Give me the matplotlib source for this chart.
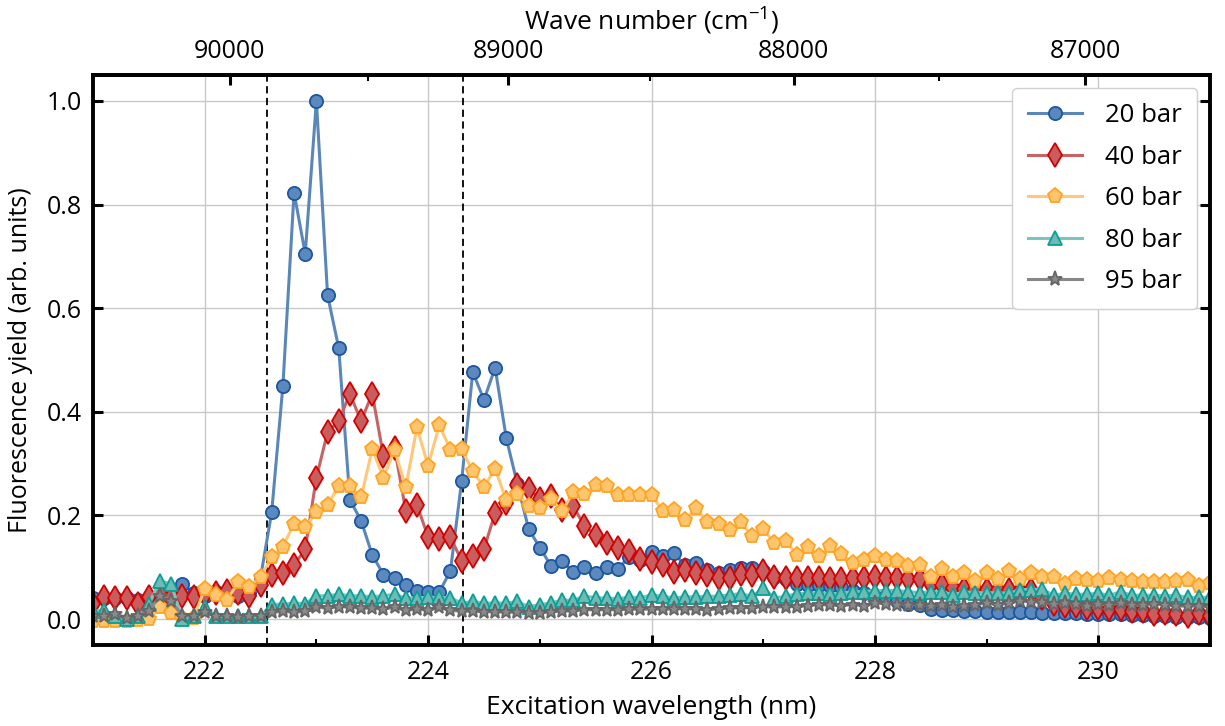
import numpy as np
import matplotlib
matplotlib.use("Agg")
import matplotlib.pyplot as plt
from matplotlib.ticker import FixedLocator, MultipleLocator, FormatStrFormatter

plt.rcParams['font.family'] = ['Open Sans', 'DejaVu Sans']
plt.rcParams['mathtext.default'] = 'regular'

# Excitation wavelength grid (nm), 0.1 nm steps from 221.0 to 231.0
wavelength = np.round(np.arange(221.0, 231.05, 0.1), 1)

y20 = [0.040, 0.040, 0.040, 0.040, 0.036, 0.036, 0.040, 0.045, 0.068, 0.050,
       0.045, 0.052, 0.050, 0.045, 0.050, 0.080, 0.207, 0.450, 0.823, 0.705,
       1.000, 0.625, 0.523, 0.230, 0.190, 0.124, 0.086, 0.079, 0.066, 0.054,
       0.052, 0.052, 0.093, 0.266, 0.477, 0.423, 0.485, 0.349, 0.260, 0.174,
       0.138, 0.103, 0.113, 0.091, 0.100, 0.088, 0.100, 0.097, 0.120, 0.115,
       0.129, 0.121, 0.127, 0.104, 0.109, 0.095, 0.089, 0.095, 0.098, 0.098,
       0.092, 0.081, 0.077, 0.068, 0.066, 0.066, 0.063, 0.061, 0.055, 0.050,
       0.045, 0.040, 0.035, 0.030, 0.028, 0.020, 0.018, 0.017, 0.016, 0.015,
       0.014, 0.014, 0.014, 0.013, 0.013, 0.012, 0.012, 0.011, 0.011, 0.010,
       0.010, 0.009, 0.009, 0.008, 0.008, 0.006, 0.006, 0.005, 0.005, 0.004,
       0.003]

y40 = [0.030, 0.042, 0.040, 0.040, 0.030, 0.042, 0.048, 0.040, 0.044, 0.042,
       0.048, 0.050, 0.055, 0.050, 0.045, 0.065, 0.085, 0.088, 0.104, 0.135,
       0.273, 0.361, 0.382, 0.435, 0.382, 0.435, 0.315, 0.330, 0.209, 0.220,
       0.159, 0.155, 0.158, 0.113, 0.122, 0.135, 0.205, 0.225, 0.259, 0.252,
       0.232, 0.237, 0.211, 0.218, 0.179, 0.163, 0.147, 0.137, 0.131, 0.116,
       0.111, 0.104, 0.091, 0.095, 0.089, 0.086, 0.079, 0.079, 0.087, 0.086,
       0.092, 0.082, 0.079, 0.079, 0.079, 0.079, 0.077, 0.077, 0.079, 0.079,
       0.082, 0.079, 0.079, 0.078, 0.077, 0.068, 0.066, 0.060, 0.058, 0.058,
       0.057, 0.056, 0.056, 0.055, 0.057, 0.040, 0.030, 0.025, 0.025, 0.022,
       0.022, 0.020, 0.020, 0.016, 0.015, 0.010, 0.012, 0.010, 0.006, 0.012,
       0.006]

y60 = [-0.003, -0.003, -0.003, -0.003, -0.002, 0.000, 0.023, 0.011, 0.002, 0.002,
       0.058, 0.047, 0.037, 0.071, 0.062, 0.082, 0.119, 0.140, 0.184, 0.177,
       0.207, 0.221, 0.256, 0.256, 0.235, 0.328, 0.273, 0.327, 0.254, 0.370,
       0.296, 0.374, 0.327, 0.328, 0.285, 0.255, 0.290, 0.229, 0.242, 0.219,
       0.214, 0.232, 0.208, 0.245, 0.242, 0.258, 0.256, 0.239, 0.239, 0.239,
       0.239, 0.209, 0.211, 0.192, 0.214, 0.187, 0.184, 0.172, 0.187, 0.160,
       0.174, 0.147, 0.151, 0.124, 0.140, 0.121, 0.142, 0.126, 0.108, 0.115,
       0.122, 0.115, 0.113, 0.103, 0.105, 0.082, 0.097, 0.081, 0.089, 0.073,
       0.089, 0.077, 0.092, 0.077, 0.089, 0.082, 0.082, 0.068, 0.077, 0.076,
       0.074, 0.079, 0.076, 0.074, 0.071, 0.072, 0.072, 0.074, 0.076, 0.064,
       0.069]

y80 = [0.016, 0.017, 0.006, 0.000, 0.006, 0.029, 0.074, 0.068, 0.000, 0.006,
       0.023, 0.006, 0.006, 0.006, 0.006, 0.006, 0.028, 0.029, 0.031, 0.030,
       0.045, 0.045, 0.048, 0.045, 0.045, 0.043, 0.045, 0.048, 0.041, 0.041,
       0.042, 0.042, 0.041, 0.031, 0.034, 0.031, 0.031, 0.031, 0.034, 0.024,
       0.028, 0.031, 0.037, 0.036, 0.045, 0.041, 0.041, 0.039, 0.043, 0.041,
       0.047, 0.044, 0.041, 0.043, 0.043, 0.044, 0.044, 0.047, 0.049, 0.044,
       0.060, 0.041, 0.044, 0.049, 0.050, 0.051, 0.049, 0.050, 0.053, 0.053,
       0.055, 0.055, 0.055, 0.053, 0.051, 0.053, 0.053, 0.047, 0.053, 0.051,
       0.051, 0.051, 0.050, 0.057, 0.057, 0.058, 0.046, 0.050, 0.048, 0.048,
       0.050, 0.046, 0.053, 0.046, 0.046, 0.046, 0.045, 0.046, 0.042, 0.042,
       0.042]

y95 = [0.006, 0.006, 0.010, 0.003, 0.006, 0.016, 0.045, 0.035, 0.006, 0.006,
       0.013, 0.006, 0.006, 0.004, 0.006, 0.006, 0.013, 0.015, 0.013, 0.015,
       0.023, 0.021, 0.024, 0.023, 0.021, 0.021, 0.019, 0.023, 0.017, 0.019,
       0.017, 0.023, 0.017, 0.015, 0.015, 0.014, 0.014, 0.013, 0.013, 0.012,
       0.012, 0.014, 0.015, 0.016, 0.018, 0.018, 0.018, 0.018, 0.019, 0.019,
       0.019, 0.019, 0.019, 0.020, 0.019, 0.018, 0.020, 0.021, 0.022, 0.022,
       0.024, 0.023, 0.024, 0.024, 0.026, 0.028, 0.027, 0.026, 0.028, 0.026,
       0.031, 0.030, 0.028, 0.028, 0.028, 0.026, 0.028, 0.024, 0.026, 0.028,
       0.031, 0.028, 0.031, 0.035, 0.033, 0.033, 0.029, 0.032, 0.029, 0.026,
       0.029, 0.027, 0.032, 0.027, 0.027, 0.029, 0.027, 0.025, 0.025, 0.025,
       0.024]

labels = ['20 bar', '40 bar', '60 bar', '80 bar', '95 bar']
dashed_lines_nm = [222.56, 224.31]
top_ticks = [90000, 89000, 88000, 87000]
top_minor = [89500, 88500, 87500]

styles = [
    dict(marker='o', color='#5a87b8', mfc='#5b89bd', mec='#1a56a2', ms=9.5),
    dict(marker='d', color='#c46464', mfc='#c95c5c', mec='#d40000', ms=12),
    dict(marker='p', color='#ffc878', mfc='#ffc56e', mec='#ffa422', ms=11),
    dict(marker='^', color='#7cc4c0', mfc='#6cbcb6', mec='#0a9e96', ms=10),
    dict(marker='*', color='#888888', mfc='#8a8a8a', mec='#666666', ms=11),
]

fig = plt.figure(figsize=(12.25, 7.26), dpi=100)
ax = fig.add_axes([93/1225, 1-645/726, (1210-93)/1225, (645-75)/726])

for ys, lab, st in zip([y20, y40, y60, y80, y95], labels, styles):
    ax.plot(wavelength, ys, label=lab, lw=2.2, mew=1.3, **st)

for xv in dashed_lines_nm:
    ax.axvline(xv, color='black', ls=(0, (4, 2.5)), lw=1.3, zorder=1)

ax.set_xlim(221.0, 231.0)
ax.set_ylim(-0.05, 1.05)
ax.xaxis.set_major_locator(MultipleLocator(2))
ax.xaxis.set_minor_locator(MultipleLocator(1))
ax.yaxis.set_major_locator(MultipleLocator(0.2))
ax.grid(True, which='major', color='#c8c8c8', lw=1.0, zorder=0)
ax.set_axisbelow(True)

ax.tick_params(axis='both', which='major', direction='in', length=7, width=2.2,
               labelsize=18, right=True, top=False, pad=8)
ax.tick_params(axis='x', which='major', pad=11)
ax.tick_params(axis='both', which='minor', direction='in', length=4, width=1.5,
               right=False, top=False)
ax.tick_params(axis='y', which='minor', left=False)
for sp in ax.spines.values():
    sp.set_linewidth(2.8)

ax.set_xlabel('Excitation wavelength (nm)', fontsize=19, labelpad=7)
ax.set_ylabel('Fluorescence yield (arb. units)', fontsize=18, labelpad=10)
ax.yaxis.set_major_formatter(FormatStrFormatter('%.1f'))

# two-photon wave number: 2 / lambda
secax = ax.secondary_xaxis('top', functions=(lambda x: 2e7 / x, lambda x: 2e7 / x))
secax.xaxis.set_major_locator(FixedLocator(top_ticks))
secax.xaxis.set_minor_locator(FixedLocator(top_minor))
secax.tick_params(axis='x', which='major', direction='in', length=7, width=2.2,
                  labelsize=18, pad=8)
secax.tick_params(axis='x', which='minor', direction='in', length=4, width=1.5)
secax.spines['top'].set_linewidth(2.8)
secax.set_xlabel('Wave number (cm$^{\u22121}$)', fontsize=19, labelpad=6)

leg = ax.legend(loc='upper right', fontsize=18.5, frameon=True, fancybox=True,
                edgecolor='#d0d0d0', framealpha=1.0, numpoints=1,
                handlelength=2.1, handletextpad=0.9, labelspacing=0.64,
                borderpad=0.6, borderaxespad=0.5)
leg.get_frame().set_linewidth(1.0)

fig.savefig('out.png', dpi=100)
